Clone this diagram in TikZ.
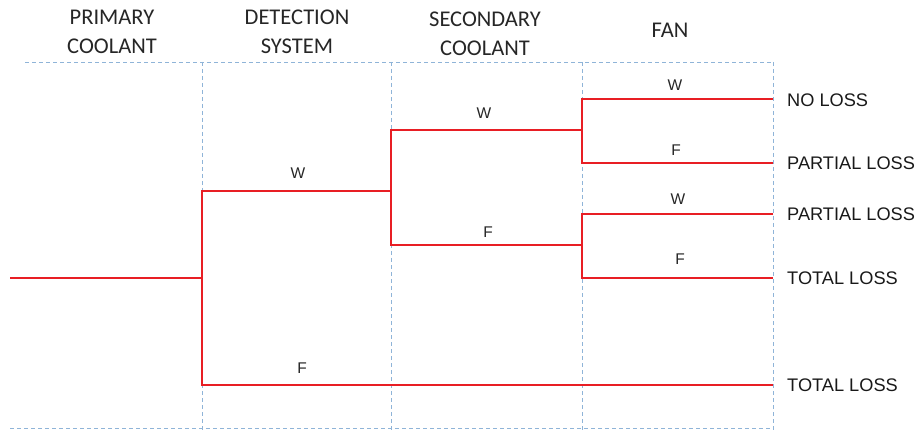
\documentclass[tikz,border=0pt]{standalone}
\usepackage{fontspec}
\setmainfont{Liberation Sans}
\newfontfamily\headfont{Carlito}
\begin{document}
\begin{tikzpicture}[x=1pt,y=-1pt,
  grid/.style={draw=gridblue,line width=0.9pt,dash pattern=on 4pt off 3pt},
  branch/.style={draw=branchred,line width=2.7pt},
  header/.style={font=\headfont\fontsize{22.5}{29}\selectfont,align=center,text=black!85},
  edgelbl/.style={font=\fontsize{15.5}{17}\selectfont,text=black!85},
  outcome/.style={font=\fontsize{18.2}{20}\selectfont,anchor=west,text=black!90,inner sep=0pt}]
\definecolor{gridblue}{RGB}{143,180,216}
\definecolor{branchred}{RGB}{232,30,36}
\useasboundingbox (0,0) rectangle (920,430);

% column frame
\draw[grid] (25,62) -- (773,62);
\draw[grid] (10,428) -- (773,428);
\foreach \gx in {202,391,582,773}
  \draw[grid] (\gx,62) -- (\gx,430);

% column headings
\node[header] (hpc) at (112,32) {PRIMARY\\COOLANT};
\node[header] (hds) at (297,32) {DETECTION\\SYSTEM};
\node[header] (hsc) at (485,34) {SECONDARY\\COOLANT};
\node[header] (hfan) at (670,30) {FAN};

% branch points
\coordinate (root) at (10,278);
\coordinate (d) at (202,278);
\coordinate (s) at (391,191);
\coordinate (f1) at (582,130);
\coordinate (f2) at (582,245);
\coordinate (e1) at (773,99);
\coordinate (e2) at (773,163);
\coordinate (e3) at (773,214);
\coordinate (e4) at (773,278);
\coordinate (e5) at (773,385);

% event tree branches
\draw[branch] (root) -- (d);
\draw[branch] (s) -| (d) |- (e5);
\draw[branch] (f1) -| (s) |- (f2);
\draw[branch] (e1) -| (f1) |- (e2);
\draw[branch] (e3) -| (f2) |- (e4);

% branch labels
\node[edgelbl] (lw1) at (298,173) {W};
\node[edgelbl] (lf1) at (302,368) {F};
\node[edgelbl] (lw2) at (484,113) {W};
\node[edgelbl] (lf2) at (488,232) {F};
\node[edgelbl] (lw3) at (675,85) {W};
\node[edgelbl] (lf3) at (676,150) {F};
\node[edgelbl] (lw4) at (678,199) {W};
\node[edgelbl] (lf4) at (680,259) {F};

% outcomes
\node[outcome] (o1) at (787,100) {NO LOSS};
\node[outcome] (o2) at (787,163) {PARTIAL LOSS};
\node[outcome] (o3) at (787,214) {PARTIAL LOSS};
\node[outcome] (o4) at (787,278) {TOTAL LOSS};
\node[outcome] (o5) at (787,385) {TOTAL LOSS};
\end{tikzpicture}
\end{document}
